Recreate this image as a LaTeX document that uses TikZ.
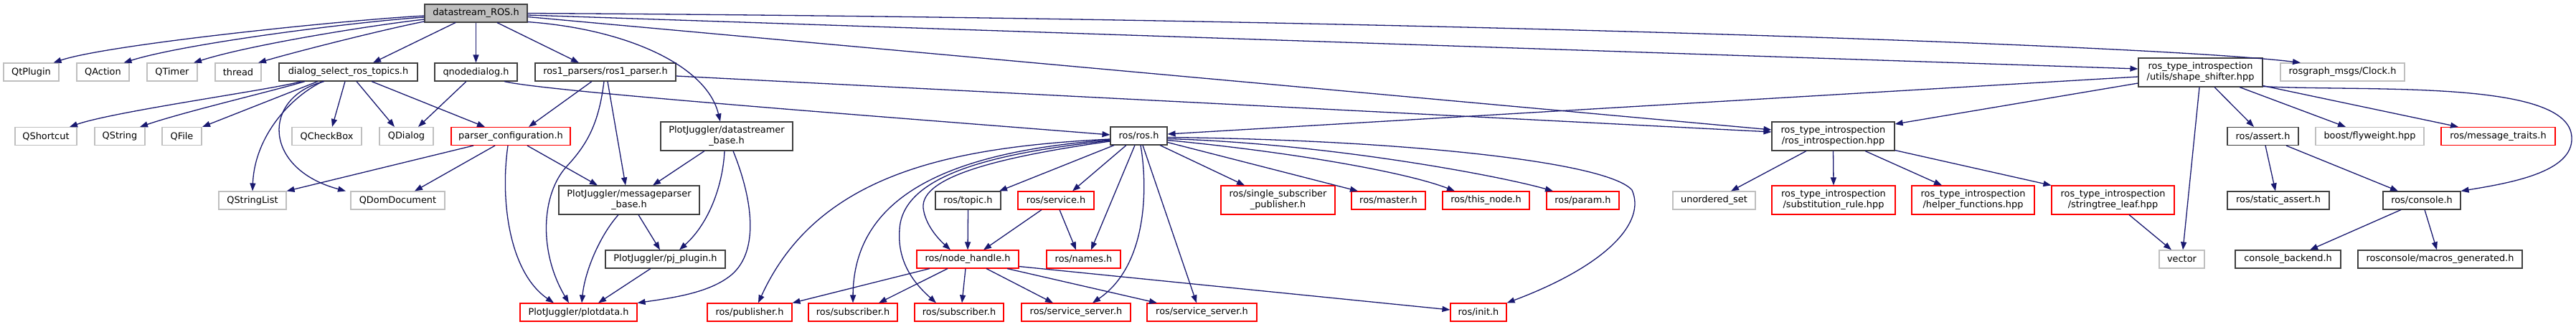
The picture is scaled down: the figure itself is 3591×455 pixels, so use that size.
\documentclass[tikz,border=0pt]{standalone}
\usepackage{fontspec}
\setmainfont{DejaVu Sans}
\usetikzlibrary{arrows.meta,calc}
\definecolor{edgec}{HTML}{191970}
\definecolor{docb}{HTML}{404040}
\definecolor{redb}{HTML}{FF0000}
\definecolor{grayb}{HTML}{BFBFBF}
\definecolor{mainfill}{HTML}{BFBFBF}
\begin{document}
\begin{tikzpicture}[x=1pt,y=-1pt,
  box/.style={draw, line width=1.1pt, inner sep=0pt, minimum height=25pt,
    font=\fontsize{12.9}{15}\selectfont, align=center, fill=white},
  doc/.style={box, draw=docb},
  trunc/.style={box, draw=redb},
  ext/.style={box, draw=grayb},
  mainbox/.style={box, draw=docb, fill=mainfill},
  two/.style={minimum height=40pt},
  e/.style={draw=edgec, line width=1.3pt, -{Triangle[length=11pt,width=8pt]}}]
\fill[white] (0,0) rectangle (3591,455);
\useasboundingbox (0,0) rectangle (3591,455);
% row 0
\node[mainbox, minimum width=143pt] (main) at (663.5,18.5) {datastream\_ROS.h};
% row 1
\node[ext, minimum width=77pt] (qtplugin) at (43.5,100.5) {QtPlugin};
\node[ext, minimum width=73pt] (qaction) at (143.5,100.5) {QAction};
\node[ext, minimum width=70pt] (qtimer) at (240,100.5) {QTimer};
\node[ext, minimum width=64pt] (thread) at (332,100.5) {thread};
\node[doc, minimum width=193pt] (dialog) at (485.5,100.5) {dialog\_select\_ros\_topics.h};
\node[doc, minimum width=115pt] (qnode) at (663.5,100.5) {qnodedialog.h};
\node[doc, minimum width=196pt] (ros1p) at (844,100.5) {ros1\_parsers/ros1\_parser.h};
\node[doc, two, minimum width=173pt] (shape) at (3067.5,101) {ros\_type\_introspection\\/utils/shape\_shifter.hpp};
\node[ext, minimum width=173pt] (clock) at (3265.5,100.5) {rosgraph\_msgs/Clock.h};
% row 2
\node[ext, minimum width=86pt] (qshortcut) at (64,190) {QShortcut};
\node[ext, minimum width=70pt] (qstring) at (167,190) {QString};
\node[ext, minimum width=55pt] (qfile) at (253.5,190) {QFile};
\node[ext, minimum width=97pt] (qcheckbox) at (455.5,190) {QCheckBox};
\node[ext, minimum width=75pt] (qdialog) at (566.5,190) {QDialog};
\node[trunc, minimum width=166pt] (parsercfg) at (712,190) {parser\_configuration.h};
\node[doc, two, minimum width=184pt] (dsbase) at (1013,190) {PlotJuggler/datastreamer\\\_base.h};
\node[doc, minimum width=79pt] (rosh) at (1587.5,189.5) {ros/ros.h};
\node[doc, two, minimum width=171pt] (rti) at (2555.5,190) {ros\_type\_introspection\\/ros\_introspection.hpp};
\node[doc, minimum width=99pt] (assert) at (3154.5,190) {ros/assert.h};
\node[ext, minimum width=151pt] (flyweight) at (3303.5,190) {boost/flyweight.hpp};
\node[trunc, minimum width=159pt] (msgtraits) at (3482.5,190) {ros/message\_traits.h};
% row 3
\node[ext, minimum width=94pt] (qstringlist) at (352,279.5) {QStringList};
\node[ext, minimum width=131pt] (qdomdoc) at (554.5,279.5) {QDomDocument};
\node[doc, two, minimum width=196pt] (mpbase) at (877,279) {PlotJuggler/messageparser\\\_base.h};
\node[doc, minimum width=91pt] (topic) at (1349.5,279.5) {ros/topic.h};
\node[trunc, minimum width=106pt] (service) at (1472,279.5) {ros/service.h};
\node[trunc, two, minimum width=159pt] (ssp) at (1781.5,279) {ros/single\_subscriber\\\_publisher.h};
\node[trunc, minimum width=103pt] (master) at (1935.5,279.5) {ros/master.h};
\node[trunc, minimum width=121pt] (thisnode) at (2071.5,279.5) {ros/this\_node.h};
\node[trunc, minimum width=101pt] (param) at (2206.5,279.5) {ros/param.h};
\node[ext, minimum width=115pt] (uset) at (2389.5,279.5) {unordered\_set};
\node[trunc, two, minimum width=172pt] (subst) at (2556,279) {ros\_type\_introspection\\/substitution\_rule.hpp};
\node[trunc, two, minimum width=171pt] (helper) at (2750.5,279) {ros\_type\_introspection\\/helper\_functions.hpp};
\node[trunc, two, minimum width=171pt] (stleaf) at (2945.5,279) {ros\_type\_introspection\\/stringtree\_leaf.hpp};
\node[doc, minimum width=142pt] (staticassert) at (3176,279.5) {ros/static\_assert.h};
\node[doc, minimum width=108pt] (console) at (3376,279.5) {ros/console.h};
% row 4
\node[doc, minimum width=167pt] (pjplugin) at (927.5,361.5) {PlotJuggler/pj\_plugin.h};
\node[trunc, minimum width=142pt] (nodehandle) at (1349,361.5) {ros/node\_handle.h};
\node[trunc, minimum width=103pt] (names) at (1510.5,361.5) {ros/names.h};
\node[ext, minimum width=63pt] (vector) at (3041.5,361.5) {vector};
\node[doc, minimum width=147pt] (backend) at (3189.5,361.5) {console\_backend.h};
\node[doc, minimum width=229pt] (macros) at (3401.5,361.5) {rosconsole/macros\_generated.h};
% row 5
\node[trunc, minimum width=163pt] (plotdata) at (806.5,435.5) {PlotJuggler/plotdata.h};
\node[trunc, minimum width=118pt] (publisher) at (1045,435.5) {ros/publisher.h};
\node[trunc, minimum width=124pt] (sub1) at (1189,435.5) {ros/subscriber.h};
\node[trunc, minimum width=124pt] (sub2) at (1337,435.5) {ros/subscriber.h};
\node[trunc, minimum width=152pt] (ss1) at (1500,435.5) {ros/service\_server.h};
\node[trunc, minimum width=153pt] (ss2) at (1675.5,435.5) {ros/service\_server.h};
\node[trunc, minimum width=78pt] (init) at (2061,435.5) {ros/init.h};
% ---- edges: main
\draw[e] ($(main.west)+(0,3.5)$) .. controls (480,28) and (150,62) .. ($(qtplugin.north)+(31,0)$);
\draw[e] ($(main.west)+(0,5.5)$) .. controls (500,30) and (260,60) .. ($(qaction.north)+(29,0)$);
\draw[e] ($(main.west)+(0,8.5)$) .. controls (520,35) and (350,62) .. ($(qtimer.north)+(30,0)$);
\draw[e] ($(main.west)+(0,11.5)$) .. controls (540,40) and (420,70) .. ($(thread.north)+(28,0)$);
\draw[e] ($(main.south)+(-28.5,0)$) -- ($(dialog.north)+(34.5,0)$);
\draw[e] (main.south) -- (qnode.north);
\draw[e] ($(main.south)+(29.5,0)$) -- ($(ros1p.north)+(-37,0)$);
\draw[e] ($(main.south east)+(0,-1)$) .. controls (870,40) and (985,90) .. ($(dsbase.north)+(-9,0)$);
\draw[e] ($(main.east)+(0,5)$) -- ($(rti.west)+(0,-9)$);
\draw[e] ($(main.east)+(0,2.5)$) -- ($(shape.west)+(0,-5)$);
\draw[e] (main.east) .. controls (1900,25) and (3000,62) .. ($(clock.north)+(-58.5,0)$);
% dialog
\draw[e] ($(dialog.south)+(-65.5,0)$) .. controls (380,125) and (160,155) .. ($(qshortcut.north)+(33,0)$);
\draw[e] ($(dialog.south)+(-60.5,0)$) .. controls (380,127) and (260,155) .. ($(qstring.north)+(28,0)$);
\draw[e] ($(dialog.south)+(-42.5,0)$) -- ($(qfile.north)+(28.5,0)$);
\draw[e] ($(dialog.south)+(-35.5,0)$) .. controls (405,135) and (355,190) .. (qstringlist.north);
\draw[e] ($(dialog.south)+(-33.5,0)$) .. controls (365,135) and (365,235) .. ($(qdomdoc.north)+(-72.5,0)$);
\draw[e] ($(dialog.south)+(-4.5,0)$) -- ($(qcheckbox.north)+(7.5,0)$);
\draw[e] ($(dialog.south)+(11.5,0)$) -- ($(qdialog.north)+(-16.5,0)$);
\draw[e] ($(dialog.south)+(32.5,0)$) -- ($(parsercfg.north)+(-36,0)$);
% qnode
\draw[e] ($(qnode.south)+(-13.5,0)$) -- ($(qdialog.north)+(16.5,0)$);
\draw[e] ($(qnode.south)+(39.5,0)$) .. controls (760,128) and (1300,168) .. ($(rosh.west)+(0,-1.5)$);
% ros1p
\draw[e] ($(ros1p.south)+(-19,0)$) -- ($(parsercfg.north)+(25,0)$);
\draw[e] ($(ros1p.south)+(-2,0)$) .. controls (835,170) and (820,200) .. (790,232) .. controls (755,270) and (750,350) .. ($(plotdata.north)+(-13.5,0)$);
\draw[e] ($(ros1p.south)+(3,0)$) -- ($(mpbase.north)+(-5,0)$);
\draw[e] ($(ros1p.east)+(0,5.5)$) -- ($(rti.west)+(0,-6)$);
% parsercfg
\draw[e] ($(parsercfg.south)+(-52,0)$) -- (qstringlist.north east);
\draw[e] ($(parsercfg.south)+(-22,0)$) -- ($(qdomdoc.north)+(23.5,0)$);
\draw[e] ($(parsercfg.south)+(-4,0)$) .. controls (697,280) and (710,380) .. ($(plotdata.north)+(-34.5,0)$);
\draw[e] ($(parsercfg.south)+(23,0)$) -- ($(mpbase.north)+(-44,0)$);
% dsbase
\draw[e] ($(dsbase.south)+(-31,0)$) -- ($(mpbase.north)+(33,0)$);
\draw[e] ($(dsbase.south)+(-3,0)$) .. controls (1008,255) and (990,310) .. ($(pjplugin.north)+(19.5,0)$);
\draw[e] ($(dsbase.south)+(9,0)$) .. controls (1050,280) and (1058,350) .. (1020,383) .. controls (990,408) and (940,415) .. (plotdata.north east);
% mpbase, pjplugin
\draw[e] ($(mpbase.south)+(13,0)$) -- ($(pjplugin.north)+(-7.5,0)$);
\draw[e] ($(mpbase.south)+(-15,0)$) .. controls (835,330) and (815,380) .. ($(plotdata.north)+(4.5,0)$);
\draw[e] ($(pjplugin.south)+(-20.5,0)$) -- ($(plotdata.north)+(27.5,0)$);
% rosh
\draw[e] ($(rosh.west)+(0,4.5)$) .. controls (1330,205) and (1140,240) .. ($(publisher.north)+(12,0)$);
\draw[e] ($(rosh.west)+(0,5.5)$) .. controls (1350,210) and (1190,260) .. (sub1.north);
\draw[e] ($(rosh.west)+(0,6.5)$) .. controls (1400,212) and (1258,240) .. (1254,320) .. controls (1250,370) and (1280,400) .. ($(sub2.north)+(-32,0)$);
\draw[e] ($(rosh.west)+(0,7.5)$) .. controls (1400,218) and (1283,245) .. (1287,290) .. controls (1290,315) and (1310,335) .. ($(nodehandle.north)+(-24,0)$);
\draw[e] ($(rosh.south)+(-34.5,0)$) -- ($(topic.north)+(43.5,0)$);
\draw[e] ($(rosh.south)+(-17.5,0)$) -- ($(service.north)+(23,0)$);
\draw[e] ($(rosh.south)+(-5.5,0)$) -- ($(names.north)+(10.5,0)$);
\draw[e] ($(rosh.south)+(2.5,0)$) .. controls (1600,260) and (1600,370) .. ($(ss1.north)+(23,0)$);
\draw[e] ($(rosh.south)+(5.5,0)$) -- ($(ss2.north)+(-7.5,0)$);
\draw[e] ($(rosh.south)+(29.5,0)$) -- ($(ssp.north)+(-46.5,0)$);
\draw[e] ($(rosh.east)+(0,9)$) -- ($(master.north)+(-42.5,0)$);
\draw[e] ($(rosh.east)+(0,6)$) .. controls (1800,212) and (1960,240) .. ($(thisnode.north)+(-43.5,0)$);
\draw[e] ($(rosh.east)+(0,4)$) .. controls (1850,200) and (2090,245) .. ($(param.north)+(-41.5,0)$);
\draw[e] ($(rosh.east)+(0,2)$) .. controls (1950,195) and (2240,225) .. (2275,265) .. controls (2295,310) and (2240,370) .. (init.north east);
% nodehandle
\draw[e] ($(nodehandle.south)+(-53,0)$) -- (publisher.north east);
\draw[e] ($(nodehandle.south)+(-28,0)$) -- ($(sub1.north)+(36,0)$);
\draw[e] ($(nodehandle.south)+(-3,0)$) -- ($(sub2.north)+(4,0)$);
\draw[e] ($(nodehandle.south)+(26,0)$) -- ($(ss1.north)+(-32,0)$);
\draw[e] ($(nodehandle.south)+(55,0)$) -- ($(ss2.north)+(-62.5,0)$);
\draw[e] ($(nodehandle.south east)+(0,-3)$) -- ($(init.west)+(0,-3.5)$);
% topic, service
\draw[e] (topic.south) -- (nodehandle.north);
\draw[e] ($(service.south)+(-20,0)$) -- ($(nodehandle.north)+(22,0)$);
\draw[e] ($(service.south)+(5,0)$) -- ($(names.north)+(-10.5,0)$);
% rti
\draw[e] ($(rti.south)+(-37.5,0)$) -- ($(uset.north)+(23.5,0)$);
\draw[e] (rti.south) -- (subst.north);
\draw[e] ($(rti.south)+(44.5,0)$) -- ($(helper.north)+(-43.5,0)$);
\draw[e] ($(rti.south east)+(0,-1)$) -- (stleaf.north west);
\draw[e] ($(stleaf.south)+(22.5,0)$) -- ($(vector.north)+(-14.5,0)$);
% shape
\draw[e] ($(shape.west)+(0,6)$) -- ($(rosh.east)+(0,-2.5)$);
\draw[e] ($(shape.west)+(0,15)$) -- ($(rti.east)+(0,-17)$);
\draw[e] ($(shape.south)+(-1.5,0)$) -- ($(vector.north)+(1.5,0)$);
\draw[e] ($(shape.south)+(19.5,0)$) -- ($(assert.north)+(-12.5,0)$);
\draw[e] ($(shape.south)+(54.5,0)$) -- ($(flyweight.north)+(-33.5,0)$);
\draw[e] ($(shape.south east)+(0,-2)$) -- ($(msgtraits.north)+(-55.5,0)$);
\draw[e] ($(shape.south east)+(0,-1)$) .. controls (3300,128) and (3583,110) .. (3585,192) .. controls (3587,240) and (3500,255) .. (console.north east);
% assert, console
\draw[e] ($(assert.south)+(3.5,0)$) -- ($(staticassert.north)+(-4,0)$);
\draw[e] ($(assert.south)+(32.5,0)$) -- ($(console.north)+(-33,0)$);
\draw[e] ($(console.south)+(-29,0)$) -- ($(backend.north)+(30.5,0)$);
\draw[e] ($(console.south)+(4,0)$) -- ($(macros.north)+(-4.5,0)$);
\end{tikzpicture}
\end{document}
